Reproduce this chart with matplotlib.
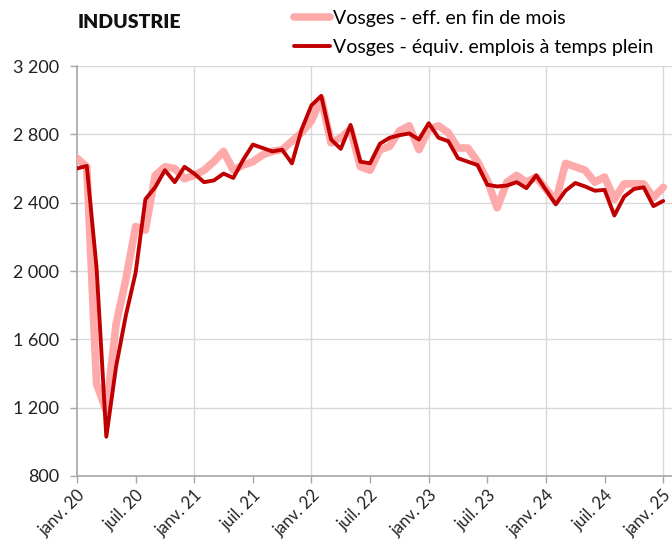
import matplotlib.pyplot as plt
import matplotlib.transforms as mtransforms
import numpy as np

# --- data ---
# monthly series, janv. 2020 -> janv. 2025
eff_fin_mois = [2660, 2610, 1340, 1180, 1690, 1950, 2260, 2240, 2560, 2610,
                2600, 2540, 2560, 2590, 2640, 2700, 2590, 2620, 2640, 2680,
                2700, 2710, 2760, 2810, 2880, 3010, 2750, 2780, 2830, 2610,
                2590, 2710, 2730, 2820, 2850, 2710, 2830, 2850, 2810, 2720,
                2720, 2640, 2530, 2370, 2520, 2560, 2520, 2550, 2480, 2410,
                2630, 2610, 2590, 2520, 2550, 2420, 2510, 2510, 2510, 2430,
                2490]
etp = [2600, 2615, 2020, 1030, 1440, 1740, 1990, 2420, 2490, 2590,
       2520, 2610, 2570, 2520, 2530, 2570, 2545, 2650, 2740, 2720,
       2700, 2710, 2630, 2830, 2970, 3025, 2770, 2715, 2855, 2640,
       2630, 2745, 2780, 2795, 2805, 2770, 2865, 2780, 2760, 2660,
       2640, 2620, 2505, 2495, 2500, 2520, 2485, 2560, 2475, 2390,
       2470, 2515, 2495, 2470, 2475, 2325, 2435, 2480, 2490, 2380,
       2410]
x_labels = ['janv. 20', 'juil. 20', 'janv. 21', 'juil. 21', 'janv. 22', 'juil. 22',
            'janv. 23', 'juil. 23', 'janv. 24', 'juil. 24', 'janv. 25']
y_ticks = [800, 1200, 1600, 2000, 2400, 2800, 3200]

plt.rcParams['font.family'] = ['Lato', 'DejaVu Sans']

months = np.arange(len(etp))

fig = plt.figure(figsize=(6.72, 5.49), dpi=100)
ax = fig.add_axes([77 / 672, 73 / 549, 595 / 672, 410 / 549])

ax.plot(months, eff_fin_mois, color='#ffaaaa', lw=5.5, solid_joinstyle='round',
        solid_capstyle='round', label='Vosges - eff. en fin de mois', zorder=3)
ax.plot(months, etp, color='#c00000', lw=2.8, solid_joinstyle='round',
        solid_capstyle='round', label='Vosges - équiv. emplois à temps plein', zorder=4)

# axes
ax.set_xlim(0, 60.9)
ax.set_ylim(800, 3200)
ax.set_yticks(y_ticks)
ax.set_yticklabels([f'{v:,}'.replace(',', '\u202f') for v in y_ticks], fontsize=13)
ax.set_xticks(np.arange(0, 61, 6))
ax.set_xticklabels(x_labels, rotation=45, ha='right', va='top',
                   rotation_mode='anchor', fontsize=12)

# keep the last rotated label inside the picture
last = ax.get_xticklabels()[-1]
last.set_transform(last.get_transform() +
                   mtransforms.ScaledTranslation(-6 / 100, 0, fig.dpi_scale_trans))

for v in y_ticks[1:]:
    ax.axhline(v, color='#d9d9d9', lw=1, zorder=1)
for m in range(12, 61, 12):
    ax.axvline(m, color='#d9d9d9', lw=1, zorder=1)

for s in ['top', 'right']:
    ax.spines[s].set_visible(False)
for s in ['left', 'bottom']:
    ax.spines[s].set_color('#a6a6a6')
    ax.spines[s].set_linewidth(1.2)
ax.tick_params(axis='both', colors='#a6a6a6', length=5, width=1, labelcolor='#222222')
ax.tick_params(axis='y', pad=8)
ax.tick_params(axis='x', pad=3)

fig.text(78 / 672, 1 - 22 / 549, 'INDUSTRIE', fontsize=14, fontweight='heavy',
         va='center', ha='left', color='#111111')

ax.legend(loc='upper left', bbox_to_anchor=(294 / 672, 1 - 10 / 549),
          bbox_transform=fig.transFigure, frameon=False, fontsize=14,
          handlelength=1.85, handletextpad=0.15, labelspacing=0.62,
          borderaxespad=0, borderpad=0)

plt.savefig('out.png', dpi=100)
